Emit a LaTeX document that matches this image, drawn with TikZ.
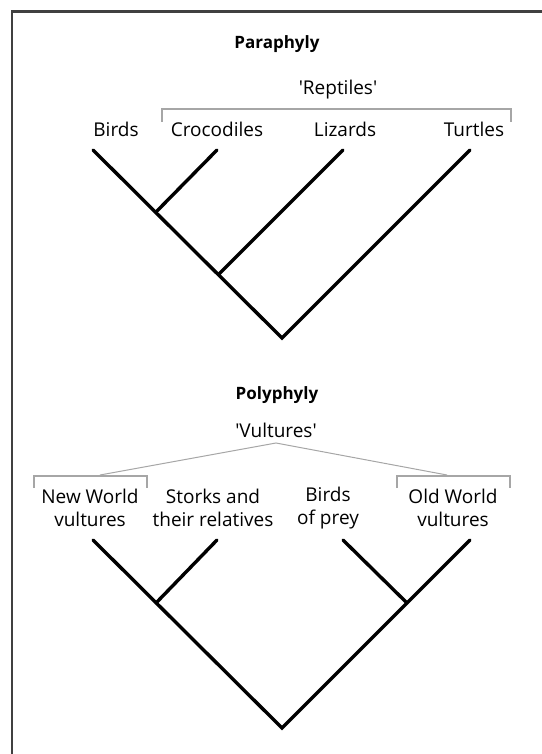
\documentclass[tikz,border=0pt]{standalone}
\usepackage{fontspec}
\setmainfont{Open Sans}
\begin{document}
\begin{tikzpicture}[x=1pt,y=-1pt,
  branch/.style={line width=3.4pt,line cap=round,line join=miter,black},
  bracket/.style={line width=1.3pt,gray!70},
  taxon/.style={inner sep=0pt,font=\fontsize{19}{23}\selectfont,align=center},
  heading/.style={inner sep=0pt,font=\fontsize{17}{20}\selectfont\bfseries},
  group/.style={inner sep=0pt,font=\fontsize{19}{20}\selectfont}]
\useasboundingbox (0,0) rectangle (541,754);
% frame
\draw[line width=2.6pt,black!75] (12,760) -- (12,11.5) -- (548,11.5);

% ---------- Paraphyly ----------
\node[heading] (t1) at (277,44) {Paraphyly};
\node[group] (rep) at (338,90) {\textquotesingle Reptiles\textquotesingle};
\draw[bracket] (162,122) -- (162,109) -- (511,109) -- (511,122);
\node[taxon] (birds) at (116,129) {Birds};
\node[taxon] (croc) at (217,129) {Crocodiles};
\node[taxon] (liz) at (345,129) {Lizards};
\node[taxon] (turt) at (474,129) {Turtles};

\coordinate (a1) at (93,150);
\coordinate (a2) at (217,150);
\coordinate (a3) at (343,150);
\coordinate (a4) at (470,150);
\coordinate (n1) at (156,212);
\coordinate (n2) at (219,274);
\coordinate (r1) at (282,338);
\draw[branch] (a1) -- (r1) -- (a4);
\draw[branch] (a2) -- (n1);
\draw[branch] (a3) -- (n2);

% ---------- Polyphyly ----------
\node[heading] (t2) at (277,395) {Polyphyly};
\node[group] (vul) at (276,430) {\textquotesingle Vultures\textquotesingle};
\coordinate (apex) at (276,443);
\coordinate (lb) at (100,475);
\coordinate (rb) at (447,475);
\draw[bracket,line width=1pt] (lb) -- (apex) -- (rb);
\draw[bracket] (34,488) -- (34,476) -- (147,476) -- (147,488);
\draw[bracket] (397,488) -- (397,476) -- (510,476) -- (510,488);
\node[taxon] (nwv) at (90,508) {New World\\vultures};
\node[taxon] (stork) at (213,508) {Storks and\\their relatives};
\node[taxon] (bop) at (328,508) {Birds\\of prey};
\node[taxon] (owv) at (453,508) {Old World\\vultures};

\coordinate (b1) at (93,540);
\coordinate (b2) at (217,540);
\coordinate (b3) at (343,540);
\coordinate (b4) at (470,540);
\coordinate (m1) at (156,603);
\coordinate (m2) at (407,603);
\coordinate (r2) at (282,728);
\draw[branch] (b1) -- (r2) -- (b4);
\draw[branch] (b2) -- (m1);
\draw[branch] (b3) -- (m2);
\end{tikzpicture}
\end{document}
